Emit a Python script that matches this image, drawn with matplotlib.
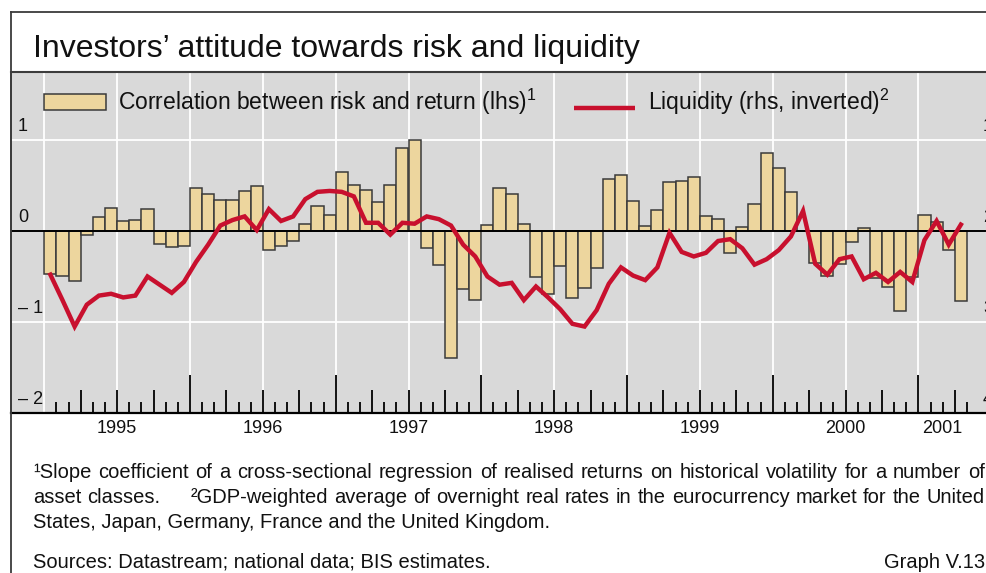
import matplotlib
matplotlib.use("Agg")
import matplotlib.pyplot as plt
import numpy as np
from matplotlib.patches import Rectangle
from matplotlib.lines import Line2D

W, H, DPI = 987, 573, 100

# Monthly observations, January 1995 to April 2001
correlation = [
    -0.47, -0.50, -0.55, -0.04, 0.15, 0.25, 0.11, 0.12, 0.24, -0.14, -0.18, -0.17,   # 1995
    0.47, 0.41, 0.34, 0.34, 0.44, 0.49, -0.21, -0.17, -0.11, 0.08, 0.28, 0.18,       # 1996
    0.65, 0.50, 0.45, 0.32, 0.50, 0.91, 1.00, -0.19, -0.37, -1.40, -0.64, -0.76,     # 1997
    0.07, 0.47, 0.41, 0.08, -0.51, -0.69, -0.39, -0.74, -0.63, -0.41, 0.57, 0.61,    # 1998
    0.33, 0.05, 0.23, 0.54, 0.55, 0.59, 0.16, 0.13, -0.24, 0.04, 0.30, 0.86,         # 1999
    0.69, 0.43, 0.00, -0.35, -0.50, -0.36, -0.12, 0.03, -0.52, -0.61, -0.88, -0.51,  # 2000
    0.18, 0.10, -0.21, -0.77,                                                         # 2001
]
liquidity = [
    2.48, 2.76, 3.05, 2.81, 2.71, 2.69, 2.73, 2.71, 2.50, 2.59, 2.68, 2.56,
    2.34, 2.15, 1.94, 1.88, 1.84, 1.99, 1.76, 1.89, 1.84, 1.65, 1.57, 1.56,
    1.57, 1.62, 1.91, 1.91, 2.04, 1.91, 1.92, 1.84, 1.87, 1.94, 2.15, 2.28,
    2.50, 2.59, 2.57, 2.76, 2.61, 2.73, 2.86, 3.02, 3.05, 2.87, 2.58, 2.40,
    2.49, 2.54, 2.40, 2.02, 2.23, 2.28, 2.24, 2.11, 2.09, 2.19, 2.37, 2.31,
    2.21, 2.06, 1.78, 2.36, 2.48, 2.31, 2.28, 2.53, 2.46, 2.56, 2.45, 2.56,
    2.10, 1.89, 2.15, 1.93,
]
years = ["1995", "1996", "1997", "1998", "1999", "2000", "2001"]
lhs_ticks = [1, 0, -1, -2]
lhs_labels = ["1", "0", "\u2013 1", "\u2013 2"]
rhs_ticks = [1, 2, 3, 4]
rhs_labels = ["1", "2", "3", "4"]

title = "Investors\u2019 attitude towards risk and liquidity"
legend_bar = "Correlation between risk and return (lhs)$^{1}$"
legend_line = "Liquidity (rhs, inverted)$^{2}$"
note1 = "\u00b9Slope coefficient of a cross-sectional regression of realised returns on historical volatility for a number of"
note2a = "asset classes."
note2b = "\u00b2GDP-weighted average of overnight real rates in the eurocurrency market for the United"
note3 = "States, Japan, Germany, France and the United Kingdom."
sources = "Sources: Datastream; national data; BIS estimates."
graph_id = "Graph V.13"

BG = "#d9d9d9"
BAR = "#edd69e"
EDGE = "#3a3a3a"
RED = "#c8102e"
FRAME = "#3c3c3c"
INK = "#111111"

plt.rcParams["font.family"] = ["Liberation Sans", "DejaVu Sans"]
plt.rcParams["mathtext.fontset"] = "custom"
plt.rcParams["mathtext.rm"] = "Liberation Sans"
plt.rcParams["mathtext.default"] = "regular"

fig = plt.figure(figsize=(W / DPI, H / DPI), dpi=DPI)
fig.patch.set_facecolor("white")


def fx(px):
    return px / W


def fy(py):
    return 1 - py / H


# plot panel geometry (pixels)
left, right, top, bottom = 11, 987, 72, 413
ax = fig.add_axes([fx(left), fy(bottom), fx(right) - fx(left), fy(top) - fy(bottom)])
ax.set_facecolor(BG)

month_px = 12.14
x0_px = 44.3
ax.set_xlim((left - x0_px) / month_px, (right - x0_px) / month_px)
ylo, yhi = -2.0, 1.747
ax.set_ylim(ylo, yhi)

months = np.arange(len(correlation))

# grid: white horizontals at +/-1, white verticals every half year
for v in (1, -1):
    ax.axhline(v, color="white", lw=1.3, zorder=0.5)
for m in range(0, 78, 6):
    ax.axvline(m, color="white", lw=1.3, zorder=0.5)

ax.bar(months, correlation, width=1.0, align="edge", color=BAR,
       edgecolor=EDGE, linewidth=1.1, zorder=2)
ax.axhline(0, color="black", lw=1.4, zorder=3)

# month / quarter / year ticks rising from the base line
span_px = bottom - top
for m in range(1, len(correlation) + 1):
    if m % 12 == 0:
        L = 38
    elif m % 3 == 0:
        L = 23
    else:
        L = 11
    ax.plot([m, m], [0, L / span_px], transform=ax.get_xaxis_transform(),
            color="black", lw=1.3, solid_capstyle="butt", zorder=4, clip_on=False)

ax.set_xticks([])
ax.set_yticks([])
ax.spines["right"].set_visible(False)
ax.spines["left"].set_color(FRAME)
ax.spines["left"].set_linewidth(1.3)
ax.spines["top"].set_color(FRAME)
ax.spines["top"].set_linewidth(1.5)
ax.spines["bottom"].set_color("black")
ax.spines["bottom"].set_linewidth(1.6)

# left scale labels, sitting just above their grid lines
for v, lab in zip(lhs_ticks, lhs_labels):
    ax.annotate(lab, xy=(0, v), xycoords=ax.get_yaxis_transform(),
                xytext=(7 * 0.72, 9 * 0.72), textcoords="offset points",
                ha="left", va="baseline", fontsize=13, color=INK,
                annotation_clip=False)

# liquidity on an inverted right-hand scale
ax2 = ax.twinx()
ax2.set_ylim(2 - ylo, 2 - yhi)
ax2.plot(months + 0.5, liquidity, color=RED, lw=3.2, solid_joinstyle="miter",
         zorder=5)
ax2.set_yticks([])
for s in ax2.spines.values():
    s.set_visible(False)
for v, lab in zip(rhs_ticks, rhs_labels):
    ax2.annotate(lab, xy=(1, v), xycoords=ax2.get_yaxis_transform(),
                 xytext=(-4 * 0.72, 9 * 0.72), textcoords="offset points",
                 ha="left", va="baseline", fontsize=13, color=INK,
                 annotation_clip=False)

# year labels centred on each year's span of data
n = len(correlation)
for k, yr in enumerate(years):
    start = 12 * k
    end = min(start + 12, n)
    ax.annotate(yr, xy=((start + end) / 2, 0), xycoords=ax.get_xaxis_transform(),
                xytext=(0, -20 * 0.72), textcoords="offset points",
                ha="center", va="baseline", fontsize=13, color=INK,
                annotation_clip=False)

# legend
fig.patches.append(Rectangle((fx(44), fy(110)), fx(106) - fx(44), fy(94) - fy(110),
                             transform=fig.transFigure, facecolor=BAR,
                             edgecolor=EDGE, linewidth=1.1, zorder=6))
fig.text(fx(118), fy(110), legend_bar, fontsize=16.5, color=INK,
         ha="left", va="baseline")
fig.lines.append(Line2D([fx(574), fx(635)], [fy(108), fy(108)],
                        transform=fig.transFigure, color=RED, lw=3.2,
                        solid_capstyle="butt"))
fig.text(fx(648), fy(110), legend_line, fontsize=16.5, color=INK,
         ha="left", va="baseline")

# outer frame and title
fig.lines.append(Line2D([fx(left), fx(W)], [fy(12), fy(12)], transform=fig.transFigure,
                        color=FRAME, lw=1.3))
fig.lines.append(Line2D([fx(left), fx(left)], [fy(12), 0], transform=fig.transFigure,
                        color=FRAME, lw=1.3))
fig.text(fx(33), fy(57), title, fontsize=23, color=INK,
         ha="left", va="baseline")

# footnotes, first two lines set justified
renderer = fig.canvas.get_renderer()
NOTE_FS = 14.5


def justified(words, weights, y, x_start=33, x_end=985):
    texts = [fig.text(0, fy(y), w, fontsize=NOTE_FS, color=INK,
                      ha="left", va="baseline") for w in words]
    widths = [t.get_window_extent(renderer).width for t in texts]
    unit = ((x_end - x_start) - sum(widths)) / sum(weights)
    x = x_start
    for t, w, g in zip(texts, widths, weights + [0]):
        t.set_x(fx(x))
        x += w + unit * g


w1 = note1.split(" ")
justified(w1, [1] * (len(w1) - 1), 478)
w2a = note2a.split(" ")
w2b = note2b.split(" ")
justified(w2a + w2b, [1] * (len(w2a) - 1) + [5] + [1] * (len(w2b) - 1), 503)
fig.text(fx(33), fy(528), note3, fontsize=NOTE_FS, color=INK,
         ha="left", va="baseline")
fig.text(fx(33), fy(568), sources, fontsize=NOTE_FS, color=INK,
         ha="left", va="baseline")
fig.text(fx(985), fy(568), graph_id, fontsize=NOTE_FS, color=INK,
         ha="right", va="baseline")

fig.savefig("out.png", dpi=DPI)
